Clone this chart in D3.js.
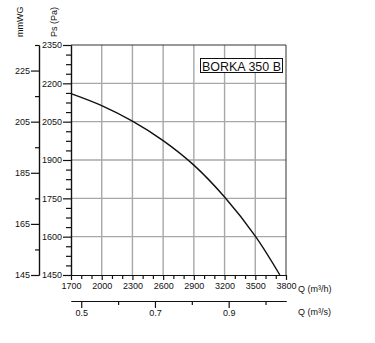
<!DOCTYPE html>
<html>
<head>
<meta charset="utf-8">
<script src="https://cdn.jsdelivr.net/npm/d3@7/dist/d3.min.js"></script>
<style>
  html, body { margin: 0; padding: 0; background: #fff; }
  svg text { font-family: "Liberation Sans", Arial, sans-serif; fill: #111; }
</style>
</head>
<body>
<svg id="chart" width="375" height="343"></svg>
<script>
// Fan performance curve: static pressure versus air flow
const flowM3h = [1700, 2000, 2300, 2600, 2900, 3200, 3500, 3740];
const pressurePa = [2160, 2113, 2052, 1976, 1880, 1755, 1602, 1450];

const flowTicks = [1700, 2000, 2300, 2600, 2900, 3200, 3500, 3800];
const paTicks = [1450, 1600, 1750, 1900, 2050, 2200, 2350];
const mmwgTicks = [145, 165, 185, 205, 225];
const m3sTicks = [0.5, 0.7, 0.9];
const modelName = "BORKA 350 B";

const svg = d3.select("#chart");
const plotLeft = 71, plotRight = 286, plotTop = 45, plotBottom = 275;

const x = d3.scaleLinear().domain([1700, 3800]).range([plotLeft, plotRight]);
const y = d3.scaleLinear().domain([1450, 2350]).range([plotBottom, plotTop]);
const yMm = d3.scaleLinear().domain([145, 235]).range([plotBottom, plotTop]);
const xS = d3.scaleLinear().domain([1700 / 3600, 3800 / 3600]).range([plotLeft, plotRight]);

const fontSize = "9px";

// grid
const grid = svg.append("g").attr("stroke", "#a8a8a8").attr("stroke-width", 1.4);
grid.selectAll("line.v").data(flowTicks.slice(1, -1)).join("line")
  .attr("x1", d => x(d)).attr("x2", d => x(d))
  .attr("y1", plotTop).attr("y2", plotBottom);
grid.selectAll("line.h").data(paTicks.slice(1, -1)).join("line")
  .attr("x1", plotLeft).attr("x2", plotRight)
  .attr("y1", d => y(d)).attr("y2", d => y(d));

// frame: top and right edges
svg.append("path")
  .attr("d", `M${plotLeft},${y(2350)}H${x(3800)}V${plotBottom}`)
  .attr("fill", "none").attr("stroke", "#333").attr("stroke-width", 1);

function styleAxis(g) {
  g.select(".domain").attr("stroke", "#111").attr("stroke-width", 1.2);
  g.selectAll(".tick line").attr("stroke", "#111").attr("stroke-width", 1.2);
  g.selectAll("text").attr("font-size", fontSize)
    .attr("font-family", "Liberation Sans, Arial, sans-serif").attr("fill", "#111");
}

// Pa axis: minor ticks every 37.5 Pa, labelled ticks every 150 Pa
const paMinor = d3.range(1450, 2350.01, 37.5).filter(v => !paTicks.includes(v));
svg.append("g").attr("transform", `translate(${plotLeft},0)`)
  .call(d3.axisLeft(y).tickValues(paMinor).tickSize(5).tickFormat("").tickSizeOuter(0))
  .call(styleAxis);
svg.append("g").attr("transform", `translate(${plotLeft},0)`)
  .call(d3.axisLeft(y).tickValues(paTicks).tickSize(8).tickPadding(1).tickFormat(d3.format("d")).tickSizeOuter(0))
  .call(styleAxis);

// mmWG axis
const mmMinor = [155, 175, 195, 215, 235];
svg.append("g").attr("transform", "translate(39,0)")
  .call(d3.axisLeft(yMm).tickValues(mmMinor).tickSize(4).tickFormat("").tickSizeOuter(0))
  .call(styleAxis);
svg.append("g").attr("transform", "translate(39,0)")
  .call(d3.axisLeft(yMm).tickValues(mmwgTicks).tickSize(8).tickPadding(1).tickFormat(d3.format("d")).tickSizeOuter(0))
  .call(styleAxis);

// flow axis in m³/h
const flowMinor = d3.range(1700, 3800, 100).filter(v => !flowTicks.includes(v));
svg.append("g").attr("transform", `translate(0,${plotBottom})`)
  .call(d3.axisBottom(x).tickValues(flowMinor).tickSize(4).tickFormat("").tickSizeOuter(0))
  .call(styleAxis);
svg.append("g").attr("transform", `translate(0,${plotBottom})`)
  .call(d3.axisBottom(x).tickValues(flowTicks).tickSize(5).tickPadding(3).tickFormat(d3.format("d")).tickSizeOuter(0))
  .call(styleAxis);

// flow axis in m³/s
const sMinor = [0.6, 0.8, 1.0];
svg.append("g").attr("transform", "translate(0,301)")
  .call(d3.axisBottom(xS).tickValues(sMinor).tickSize(4).tickFormat("").tickSizeOuter(0))
  .call(styleAxis);
svg.append("g").attr("transform", "translate(0,301)")
  .call(d3.axisBottom(xS).tickValues(m3sTicks).tickSize(7).tickPadding(2).tickFormat(d3.format(".1f")).tickSizeOuter(0))
  .call(styleAxis);

// axis titles
svg.append("text").attr("x", 298).attr("y", 292).attr("font-size", fontSize).text("Q (m³/h)");
svg.append("text").attr("x", 298).attr("y", 315).attr("font-size", fontSize).text("Q (m³/s)");
svg.append("text").attr("transform", "translate(23,37) rotate(-90)").attr("font-size", fontSize).text("mmWG");
svg.append("text").attr("transform", "translate(57,37) rotate(-90)").attr("font-size", fontSize).text("Ps (Pa)");

// curve
const pts = flowM3h.map((q, i) => [q, pressurePa[i]]);
svg.append("path")
  .datum(pts)
  .attr("fill", "none").attr("stroke", "#111").attr("stroke-width", 1.4)
  .attr("d", d3.line().x(d => x(d[0])).y(d => y(d[1])).curve(d3.curveCatmullRom.alpha(0.5)));

// model label
svg.append("rect").attr("x", 200.5).attr("y", 58.5).attr("width", 82).attr("height", 14)
  .attr("fill", "#fff").attr("stroke", "#111").attr("stroke-width", 1);
svg.append("text").attr("x", 202).attr("y", 70.5).attr("font-size", "13px")
  .attr("textLength", 79).attr("lengthAdjust", "spacingAndGlyphs").text(modelName);
</script>
</body>
</html>
